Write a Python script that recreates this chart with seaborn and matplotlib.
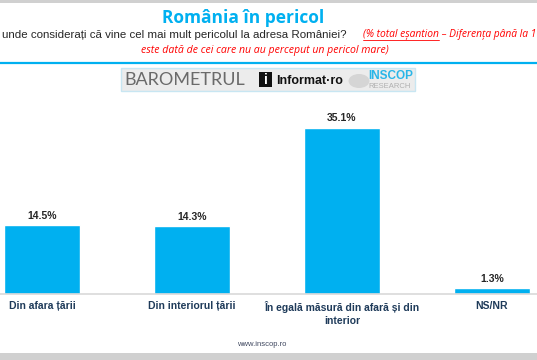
import matplotlib.pyplot as plt
import seaborn as sns
from matplotlib.patches import Rectangle, Circle
from matplotlib.lines import Line2D

categories = ['Din afara țării', 'Din interiorul țării',
              'În egală măsură din afară și din\ninterior', 'NS/NR']
values = [14.5, 14.3, 35.1, 1.3]
value_labels = ['14.5%', '14.3%', '35.1%', '1.3%']

title = 'România în pericol'
question = 'unde considerați că vine cel mai mult pericolul la adresa României?'
note_u = '(% total eșantion'
note_rest = ' – Diferența până la 1'
note_line2 = 'este dată de cei care nu au perceput un pericol mare)'
footer = 'www.inscop.ro'

W, H = 537, 360
fig = plt.figure(figsize=(W / 100, H / 100), dpi=100)
sns.set_style('white')
plt.rcParams['font.family'] = ['Liberation Sans', 'DejaVu Sans']

blue = '#00B0F0'
navy = '#1F3B5A'
red = '#FF0000'

# chart area (extends past the figure edges like the cropped slide)
ax = fig.add_axes([-33 / W, (H - 294) / H, 600 / W, 189.6 / H])
sns.barplot(x=categories, y=values, color=blue, width=0.51, saturation=1, ax=ax)
ax.set_xlim(-0.5, 3.5)
ax.set_ylim(0, 40)
ax.bar_label(ax.containers[0], labels=value_labels, padding=3,
             fontsize=7.5, fontweight='bold', color='#262626')
ax.set_yticks([])
ax.set_xlabel('')
ax.set_ylabel('')
for s in ['top', 'left', 'right']:
    ax.spines[s].set_visible(False)
ax.spines['bottom'].set_color('#D9D9D9')
ax.spines['bottom'].set_linewidth(1.2)
ax.tick_params(axis='x', which='major', length=0, pad=5)
ax.set_xticks([0.5, 1.5, 2.5], minor=True)
ax.tick_params(axis='x', which='minor', length=3, color='#BFBFBF', width=0.8)
for t in ax.get_xticklabels():
    t.set_fontsize(7.5)
    t.set_fontweight('bold')
    t.set_color(navy)
    t.set_linespacing(1.4)

# header
fig.add_artist(Rectangle((0, 1 - 3 / H), 1, 3 / H, transform=fig.transFigure,
                         color='#D0D0D0', lw=0))
fig.text(243.5 / W, 1 - 18 / H, title, ha='center', va='center', fontsize=12.5,
         fontweight='bold', color=blue, family=['Open Sans', 'DejaVu Sans'])
fig.text(2 / W, 1 - 35 / H, question, ha='left', va='center', fontsize=8.25,
         color='#262626')
t_u = fig.text(363 / W, 1 - 35 / H, note_u, ha='left', va='center', fontsize=7.4,
               style='italic', color=red, family=['Open Sans', 'DejaVu Sans'])
fig.canvas.draw()
bb = t_u.get_window_extent()
fig.add_artist(Line2D([bb.x0 / W, bb.x1 / W], [(bb.y0 + 0.5) / H] * 2,
                      transform=fig.transFigure, color=red, lw=0.6))
fig.text(bb.x1 / W, 1 - 35 / H, note_rest, ha='left', va='center', fontsize=7.4,
         style='italic', color=red, family=['Open Sans', 'DejaVu Sans'])
fig.text(265 / W, 1 - 51 / H, note_line2, ha='center', va='center', fontsize=7.6,
         style='italic', color=red, family=['Open Sans', 'DejaVu Sans'])
fig.add_artist(Line2D([0, 1], [1 - 63 / H] * 2, transform=fig.transFigure,
                      color=blue, lw=1.6))

# logo strip
fig.add_artist(Rectangle((121 / W, 1 - 91 / H), 294 / W, 23 / H,
                         transform=fig.transFigure, facecolor='#ECECEC',
                         edgecolor='#C8E6F2', lw=1))
fig.text(124 / W, 1 - 80 / H, 'BAROMETRUL', ha='left', va='center', fontsize=13,
         color='#6A6A6A', family=['Lato', 'DejaVu Sans'])
fig.add_artist(Rectangle((259 / W, 1 - 87 / H), 13 / W, 15 / H,
                         transform=fig.transFigure, color='#111111', lw=0))
fig.text(265.5 / W, 1 - 80 / H, 'i', ha='center', va='center', fontsize=10,
         fontweight='bold', color='white')
fig.text(276 / W, 1 - 81 / H, 'Informat·ro', ha='left', va='center', fontsize=9,
         fontweight='bold', color='#111111')
fig.add_artist(Circle((359 / W, 1 - 81 / H), 7 / H, transform=fig.transFigure,
                      color='#D5D5D5', lw=0))
fig.text(368 / W, 1 - 76 / H, 'INSCOP', ha='left', va='center', fontsize=8.5,
         fontweight='bold', color='#29B6E8')
fig.text(368 / W, 1 - 86.5 / H, 'RESEARCH', ha='left', va='center', fontsize=5.5,
         color='#B0B0B0')

# footer
fig.text(262 / W, 1 - 345 / H, footer, ha='center', va='center', fontsize=5.5,
         color='#404860')
fig.add_artist(Rectangle((0, 0), 1, 7 / H, transform=fig.transFigure,
                         color='#D0D0D0', lw=0))

fig.savefig('out.png', dpi=100)
